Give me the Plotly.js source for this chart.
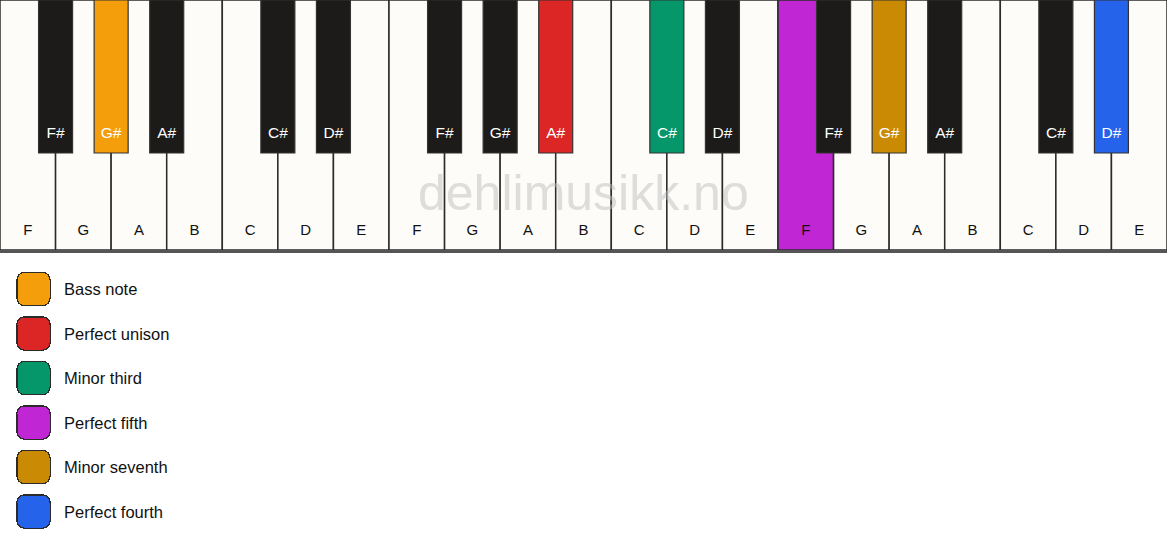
<!DOCTYPE html>
<html>
<head>
<meta charset="utf-8">
<script src="https://cdn.plot.ly/plotly-3.0.1.min.js"></script>
<style>
  html, body { margin: 0; padding: 0; background: #fff; }
  #myDiv { width: 1167px; height: 550px; }
</style>
</head>
<body>
<div id="myDiv"></div>
<script>
// keyboard: three octaves F..E
var whiteNotes = ['F','G','A','B','C','D','E','F','G','A','B','C','D','E','F','G','A','B','C','D','E'];
var blackNotes = ['F#','G#','A#','C#','D#','F#','G#','A#','C#','D#','F#','G#','A#','C#','D#'];
// black key sits after this white key index
var blackAfter = [0, 1, 2, 4, 5, 7, 8, 9, 11, 12, 14, 15, 16, 18, 19];

// legend / highlighted keys
var intervalNames = ['Bass note', 'Perfect unison', 'Minor third', 'Perfect fifth', 'Minor seventh', 'Perfect fourth'];
var intervalColors = ['#f59e0b', '#dc2626', '#059669', '#c026d3', '#ca8a04', '#2563eb'];
var intervalNotes = ['G#', 'A#', 'C#', 'F', 'G#', 'D#'];
var intervalOctave = [0, 1, 1, 2, 2, 2];

var WHITE = '#fdfcf8', BLACK = '#1c1b19', EDGE = '#2b2b2b';
var FONT = 'Arial, "Liberation Sans", sans-serif';

function octaveOfWhite(i) { return Math.floor(i / 7); }
function octaveOfBlack(k) { return Math.floor(k / 5); }

var whiteX = whiteNotes.map(function(n, i) { return i; });
var whiteFill = whiteNotes.map(function(n, i) {
  for (var j = 0; j < intervalNotes.length; j++) {
    if (intervalNotes[j] === n && intervalOctave[j] === octaveOfWhite(i)) return intervalColors[j];
  }
  return WHITE;
});
var blackX = blackAfter.map(function(a) { return a + 0.5; });
var blackFill = blackNotes.map(function(n, k) {
  for (var j = 0; j < intervalNotes.length; j++) {
    if (intervalNotes[j] === n && intervalOctave[j] === octaveOfBlack(k)) return intervalColors[j];
  }
  return BLACK;
});

var whiteKeys = {
  type: 'bar', x: whiteX, y: whiteNotes.map(function() { return 250; }),
  base: 0, width: 1, xaxis: 'x', yaxis: 'y',
  marker: { color: whiteFill, line: { color: EDGE, width: 1.5 } },
  hoverinfo: 'skip', showlegend: false
};
var blackKeys = {
  type: 'bar', x: blackX, y: blackNotes.map(function() { return 153; }),
  base: 0, width: 0.612, xaxis: 'x', yaxis: 'y',
  marker: { color: blackFill, line: { color: '#333', width: 1.2 } },
  hoverinfo: 'skip', showlegend: false
};
var whiteLabels = {
  type: 'scatter', mode: 'text', x: whiteX, y: whiteNotes.map(function() { return 231; }),
  text: whiteNotes, textfont: { family: FONT, size: 15, color: '#111' },
  xaxis: 'x', yaxis: 'y', hoverinfo: 'skip', showlegend: false
};
var blackLabels = {
  type: 'scatter', mode: 'text', x: blackX, y: blackNotes.map(function() { return 134; }),
  text: blackNotes, textfont: { family: FONT, size: 15.5, color: '#fff' },
  xaxis: 'x', yaxis: 'y', hoverinfo: 'skip', showlegend: false
};

// legend boxes: rounded squares
var rowY = intervalNames.map(function(n, i) { return 289 + i * 44.5; });
var boxEdge = {
  type: 'bar', x: rowY.map(function() { return 33.5; }),
  base: rowY.map(function(c) { return c - 17.2; }), y: rowY.map(function() { return 34.4; }),
  width: 34.4, xaxis: 'x2', yaxis: 'y2',
  marker: { color: '#2b2b2b', cornerradius: 8, line: { width: 0 } },
  hoverinfo: 'skip', showlegend: false
};
var boxFill = {
  type: 'bar', x: rowY.map(function() { return 33.5; }),
  base: rowY.map(function(c) { return c - 16; }), y: rowY.map(function() { return 32; }),
  width: 32, xaxis: 'x2', yaxis: 'y2',
  marker: { color: intervalColors, cornerradius: 7, line: { width: 0 } },
  hoverinfo: 'skip', showlegend: false
};

var annotations = intervalNames.map(function(n, i) {
  return {
    text: n, x: 62, y: rowY[i], xref: 'x2', yref: 'y2',
    xanchor: 'left', yanchor: 'middle', showarrow: false,
    font: { family: FONT, size: 16.5, color: '#111' }
  };
});
annotations.push({
  text: 'dehlimusikk.no', x: 10, y: 193, xref: 'x', yref: 'y',
  xanchor: 'center', yanchor: 'middle', showarrow: false,
  font: { family: FONT, size: 50, color: 'rgba(190,190,190,0.5)' }
});

var layout = {
  width: 1167, height: 550,
  margin: { l: 0, r: 0, t: 0, b: 0 },
  paper_bgcolor: '#fff', plot_bgcolor: 'rgba(0,0,0,0)',
  barmode: 'overlay', bargap: 0,
  showlegend: false,
  xaxis: { domain: [0, 1], range: [-0.5, 20.5], showgrid: false, zeroline: false,
    showticklabels: false, ticks: '', showline: true, linecolor: '#555', linewidth: 3, fixedrange: true },
  yaxis: { domain: [1 - 250 / 550, 1], range: [250, 0], showgrid: false, zeroline: false,
    showticklabels: false, ticks: '', fixedrange: true },
  xaxis2: { domain: [0, 1], range: [0, 1167], anchor: 'y2', visible: false, fixedrange: true },
  yaxis2: { domain: [0, 1], range: [550, 0], anchor: 'x2', visible: false, fixedrange: true },
  annotations: annotations
};

Plotly.newPlot('myDiv', [whiteKeys, blackKeys, whiteLabels, blackLabels, boxEdge, boxFill], layout,
  { staticPlot: true, displayModeBar: false });
</script>
</body>
</html>
